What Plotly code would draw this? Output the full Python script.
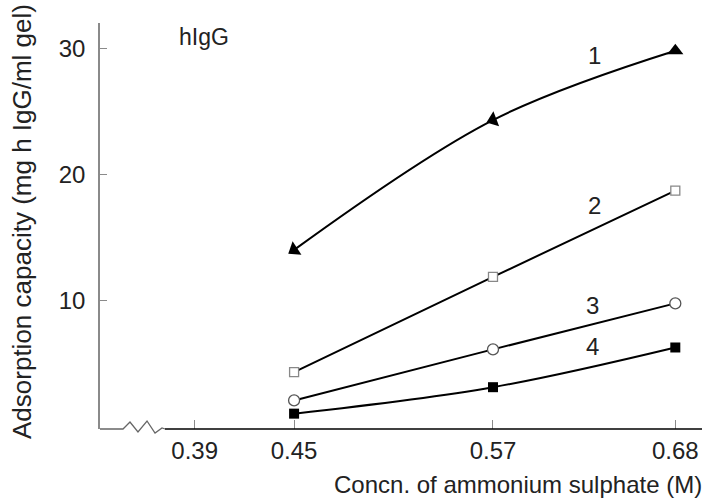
import plotly.graph_objects as go

# ---- data ----
conc = [0.45, 0.57, 0.68]
series1 = [14.0, 24.3, 29.8]   # filled triangles (arrows)
series2 = [4.3, 11.85, 18.7]   # open squares
series3 = [2.05, 6.1, 9.75]    # open circles
series4 = [1.0, 3.1, 6.25]     # filled squares
x_ticks = [0.39, 0.45, 0.57, 0.68]
x_tick_text = ["0.39", "0.45", "0.57", "0.68"]
y_ticks = [10, 20, 30]
series_labels = ["1", "2", "3", "4"]

FONT = "Liberation Sans, Arial, sans-serif"
TXT = "#222222"
AX = "#8a8a8a"

# plot-area geometry (pixels) used for paper-coordinate decorations
L, R, T, B = 100, 702, 23, 429
W, H = R - L, B - T


def px(xp):
    return (xp - L) / W


def py(yp):
    return (B - yp) / H


fig = go.Figure()

# series 1 drawn from high to low conc so arrowheads point along the curve
fig.add_trace(go.Scatter(
    x=conc[::-1], y=series1[::-1], mode="lines+markers",
    line=dict(color="black", width=2, shape="spline", smoothing=1),
    marker=dict(symbol="triangle-up", size=14, color="black", angleref="previous"),
    showlegend=False))
# end point of series 1 (upright triangle)
fig.add_trace(go.Scatter(
    x=[conc[-1]], y=[series1[-1]], mode="markers",
    marker=dict(symbol="triangle-up", size=14, color="black"),
    showlegend=False))
fig.add_trace(go.Scatter(
    x=conc, y=series2, mode="lines+markers",
    line=dict(color="black", width=2, shape="spline", smoothing=1),
    marker=dict(symbol="square", size=9, color="white", line=dict(color="#888888", width=1.3)),
    showlegend=False))
fig.add_trace(go.Scatter(
    x=conc, y=series3, mode="lines+markers",
    line=dict(color="black", width=2, shape="spline", smoothing=1),
    marker=dict(symbol="circle", size=11, color="white", line=dict(color="#555555", width=1.3)),
    showlegend=False))
fig.add_trace(go.Scatter(
    x=conc, y=series4, mode="lines+markers",
    line=dict(color="black", width=2, shape="spline", smoothing=1),
    marker=dict(symbol="square", size=10, color="black"),
    showlegend=False))

# series number labels
label_pos = [(0.6315, 29.4), (0.6315, 17.5), (0.630, 9.6), (0.630, 6.3)]
for lab, (lx, ly) in zip(series_labels, label_pos):
    fig.add_annotation(x=lx, y=ly, text=lab, showarrow=False,
                       xanchor="center", yanchor="middle",
                       font=dict(family=FONT, size=24, color=TXT))

# antigen label
fig.add_annotation(x=px(204), y=py(37), xref="paper", yref="paper", text="hIgG",
                   xanchor="center", yanchor="middle",
                   showarrow=False, font=dict(family=FONT, size=23, color=TXT))

# axis titles
fig.add_annotation(x=px(22), y=py(222), xref="paper", yref="paper",
                   xanchor="center", yanchor="middle",
                   text="Adsorption capacity (mg h IgG/ml gel)", textangle=-90,
                   showarrow=False, font=dict(family=FONT, size=26, color=TXT))
fig.add_annotation(x=px(704), y=py(484), xref="paper", yref="paper",
                   xanchor="right", yanchor="middle",
                   text="Concn. of ammonium sulphate (M)",
                   showarrow=False, font=dict(family=FONT, size=24, color=TXT))

# x axis line with break (zig-zag)
zig = [(100, 429), (123, 429), (130, 422), (138, 432), (147, 421), (155, 433), (162, 428), (165, 429)]
path = "M " + " L ".join(f"{px(a):.4f},{py(b):.4f}" for a, b in zig)
fig.add_shape(type="path", path=path, xref="paper", yref="paper",
              line=dict(color="#666666", width=1.3))
fig.add_shape(type="line", xref="paper", yref="paper",
              x0=px(165), x1=px(R), y0=0, y1=0,
              line=dict(color="black", width=1.5))

fig.update_xaxes(range=[0.3329, 0.6961], tickvals=x_ticks, ticktext=x_tick_text,
                 ticks="inside", ticklen=9, tickcolor=AX, tickwidth=1,
                 showline=False, showgrid=False, zeroline=False,
                 ticklabelstandoff=5,
                 tickfont=dict(family=FONT, size=24, color=TXT))
fig.update_yaxes(range=[-0.218, 32.0], tickvals=y_ticks,
                 ticks="inside", ticklen=7, tickcolor=AX, tickwidth=1,
                 showline=True, linecolor=AX, linewidth=1.5,
                 showgrid=False, zeroline=False, ticklabelstandoff=8,
                 tickfont=dict(family=FONT, size=24, color=TXT))

fig.update_layout(width=711, height=503,
                  margin=dict(l=L, r=711 - R, t=T, b=503 - B),
                  plot_bgcolor="white", paper_bgcolor="white")

fig.write_html("out.html")
